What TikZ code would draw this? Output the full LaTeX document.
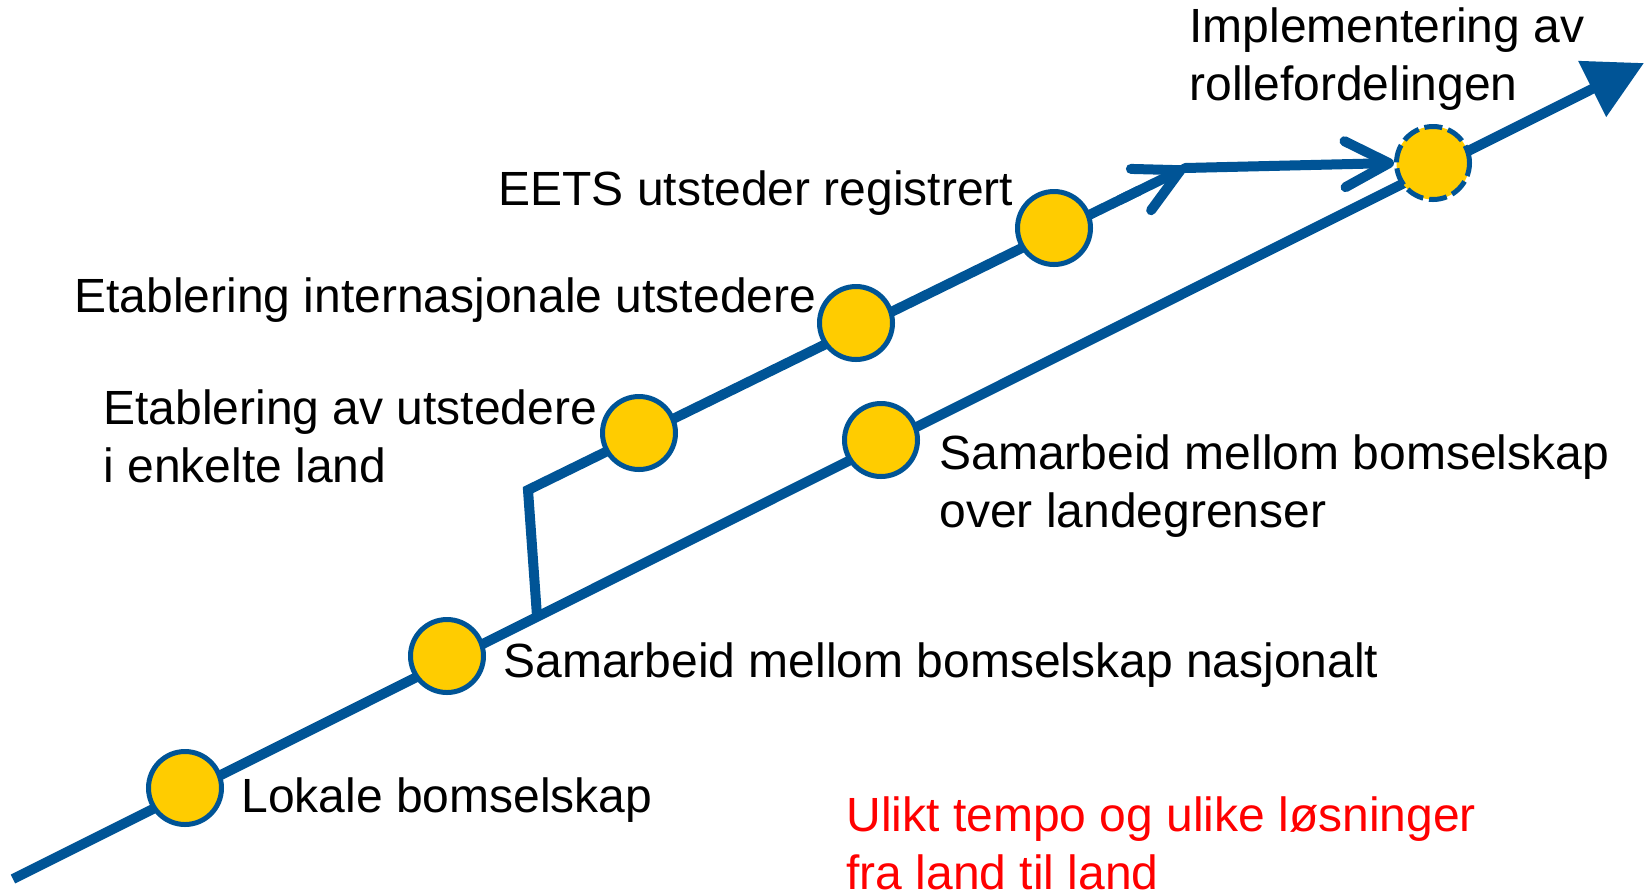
\documentclass[tikz,border=0pt]{standalone}
\usepackage{fontspec}
\setmainfont{Liberation Sans}
\usepackage{tikz}
\usetikzlibrary{calc}
\definecolor{Vblue}{RGB}{0,84,150}
\definecolor{Vyellow}{RGB}{255,204,0}
\definecolor{Vred}{RGB}{255,0,0}
\usetikzlibrary{arrows.meta,backgrounds}

\begin{document}
\begin{tikzpicture}[x=0.5pt, y=-0.5pt,
	Linje/.style={draw=Vblue, line width=5pt},
	Pil/.style={Linje, arrows = -{Straight Barb[length=22pt, width=23pt, round]}, line cap=round},
	Punkt/.style={draw=Vblue, circle, fill=Vyellow, line width=2.5pt, minimum size=36.5pt, inner sep=0pt},
	Tekst/.style={anchor=base west, inner sep=0pt, align=left, font=\fontsize{24}{29}\selectfont}]
				\useasboundingbox (0,0) rectangle (1644,891);
				\coordinate (s) at (13,879);
				\coordinate (e) at (1644,63);
				\coordinate (g) at (537,616);
				\coordinate (h) at (528,490);
				\coordinate (k) at (1185,168);
				\node (p1) at (185,788) [Punkt] {};
				\node (p2) at (447,656) [Punkt] {};
				\node (p3) at (639,433) [Punkt] {};
				\node (p4) at (856,323) [Punkt] {};
				\node (p5) at (1054,228) [Punkt] {};
				\node (p6) at (881,440) [Punkt] {};
				\node (p7) at (1433,163) [Punkt, dash pattern=on 9pt off 3pt] {};
				\begin{pgfonlayer}{background}
					\draw[Linje, arrows = -{Triangle[length=29pt, width=30pt]}] (s) -- (e);
					\draw[Linje] (g) -- (h) -- ($(h)!0.93!(k)$);
					\draw[Pil] ($(h)!0.9!(k)$) -- (k);
					\draw[Pil] (k) -- (p7.west);
				\end{pgfonlayer}
				\node[Tekst] (t1) at (241,812) {Lokale bomselskap};
				\node[Tekst] (t2) at (503,677) {Samarbeid mellom bomselskap nasjonalt};
				\node[Tekst] (t3) at (103,482) {Etablering av utstedere\\i enkelte land};
				\node[Tekst] (t4) at (74,312) {Etablering internasjonale utstedere};
				\node[Tekst] (t5) at (498,205) {EETS utsteder registrert};
				\node[Tekst] (t6) at (1189,100) {Implementering av\\rollefordelingen};
				\node[Tekst] (t7) at (939,527) {Samarbeid mellom bomselskap\\over landegrenser};
				\node[Tekst, text=Vred] (t8) at (846,889) {Ulikt tempo og ulike løsninger\\fra land til land};
\end{tikzpicture}
\end{document}
